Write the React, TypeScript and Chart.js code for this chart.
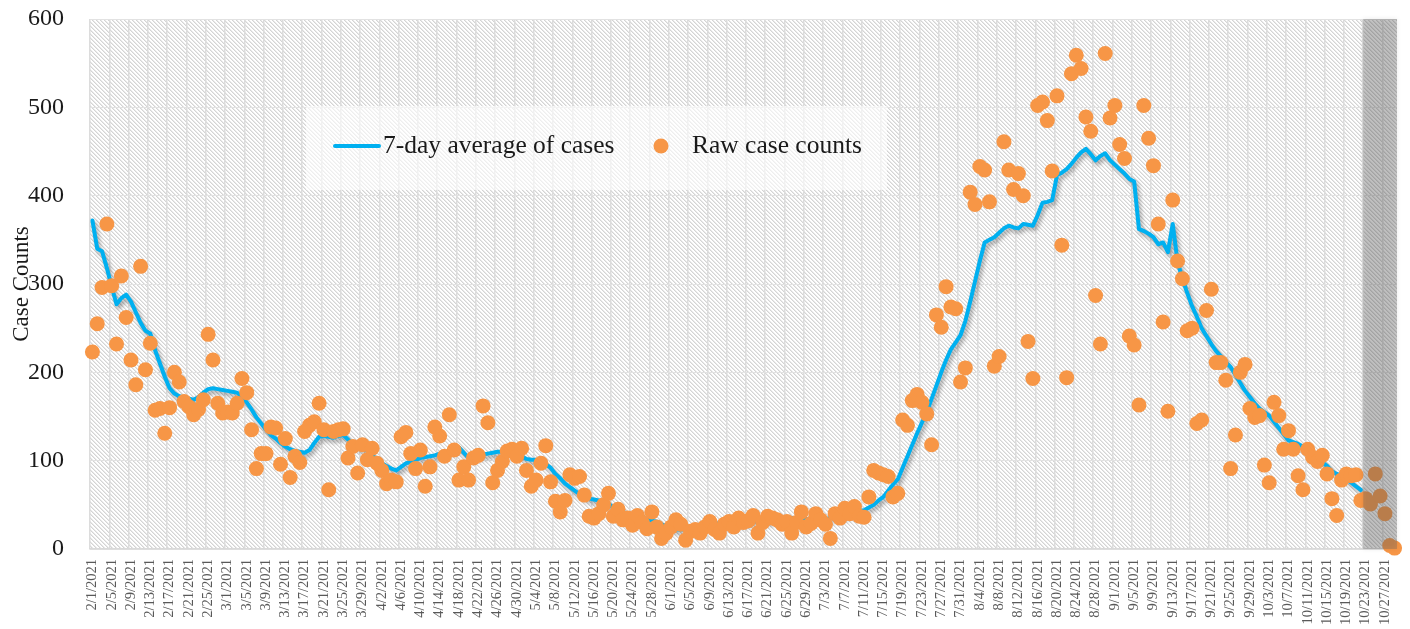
import React, { useEffect, useRef } from "react";
import { Chart, registerables } from "chart.js";

Chart.register(...registerables);

// ---- Data ----
const START_UTC = Date.UTC(2021, 1, 1); // 2/1/2021
const DAY_COUNT = 271; // 2/1/2021 .. 10/29/2021
const dateLabels: string[] = [];
for (let i = 0; i < DAY_COUNT; i++) {
  const d = new Date(START_UTC + i * 86400000);
  dateLabels.push(`${d.getUTCMonth() + 1}/${d.getUTCDate()}/${d.getUTCFullYear()}`);
}

const rawCounts: number[] = [
  223, 255, 296, 368, 298, 232, 309, 262, 214, 186,
  320, 203, 233, 157, 159, 131, 160, 200, 189, 167,
  161, 152, 158, 169, 243, 214, 165, 154, 155, 154,
  165, 193, 177, 135, 91, 108, 108, 138, 137, 96,
  125, 81, 105, 98, 133, 140, 144, 165, 135, 67,
  133, 135, 136, 103, 116, 86, 118, 101, 114, 97,
  89, 74, 78, 76, 127, 132, 108, 91, 112, 71,
  93, 138, 128, 105, 152, 112, 78, 93, 78, 103,
  106, 162, 143, 75, 89, 99, 111, 113, 105, 114,
  89, 71, 78, 97, 117, 76, 54, 42, 55, 84,
  80, 82, 61, 37, 35, 40, 50, 63, 37, 45,
  33, 35, 27, 38, 30, 23, 42, 25, 12, 18,
  25, 33, 28, 10, 20, 22, 18, 25, 31, 22,
  18, 28, 31, 25, 35, 30, 32, 38, 18, 30,
  37, 35, 33, 28, 31, 18, 30, 42, 25, 29,
  40, 33, 28, 12, 40, 35, 46, 40, 48, 37,
  36, 59, 89, 86, 84, 82, 59, 63, 146, 140,
  168, 175, 166, 153, 118, 265, 251, 297, 274, 272,
  189, 205, 404, 390, 433, 429, 393, 207, 218, 461,
  429, 407, 425, 400, 235, 193, 502, 506, 485, 428,
  513, 344, 194, 538, 559, 544, 489, 473, 287, 232,
  561, 488, 502, 458, 442, 241, 231, 163, 502, 465,
  434, 368, 257, 156, 395, 326, 306, 247, 250, 142,
  146, 270, 294, 211, 211, 191, 91, 129, 200, 209,
  159, 149, 151, 95, 75, 166, 151, 113, 134, 113,
  83, 67, 113, 104, 99, 106, 85, 57, 38, 78,
  85, 83, 84, 55, 57, 51, 85, 60, 40, 4,
  1,
];

const sevenDayAvg: (number | null)[] = [
  372, 340, 337, 318, 297, 277, 284, 288, 280, 268,
  256, 247, 244, 225, 210, 195, 182, 176, 173, 171,
  170, 169, 172, 177, 181, 182, 181, 180, 179, 178,
  177, 172, 166, 158, 149, 142, 135, 129, 125, 120,
  116, 113, 111, 110, 109, 112, 120, 127, 128, 127,
  126, 128, 129, 124, 119, 116, 113, 112, 106, 101,
  97, 94, 91, 89, 93, 97, 99, 101, 103, 104,
  105, 106, 108, 109, 111, 113, 115, 109, 103, 105,
  106, 107, 108, 109, 110, 110, 110, 109, 108, 105,
  102, 101, 101, 99, 96, 92, 85, 80, 74, 70,
  66, 62, 59, 57, 56, 55, 55, 51, 47, 44,
  42, 40, 39, 38, 37, 34, 32, 31, 28, 26,
  24, 22, 22, 22, 23, 24, 25, 27, 28, 29,
  29, 29, 29, 29, 29, 30, 30, 31, 31, 32,
  32, 32, 33, 33, 34, 35, 35, 34, 34, 33,
  33, 33, 34, 35, 36, 37, 38, 40, 41, 43,
  44, 47, 50, 55, 59, 66, 73, 79, 92, 105,
  118, 131, 143, 155, 170, 185, 200, 214, 226, 234,
  242, 258, 280, 303, 326, 347, 350, 353, 358, 363,
  366, 364, 363, 368, 367, 366, 378, 392, 393, 395,
  423, 426, 430, 436, 443, 449, 453, 447, 440, 445,
  448, 440, 435, 430, 425, 419, 416, 362, 360, 357,
  353, 345, 347, 336, 368, 325, 306, 290, 275, 263,
  250, 241, 232, 224, 218, 212, 206, 197, 188, 179,
  172, 165, 159, 155, 151, 144, 137, 130, 123, 121,
  119, 116, 112, 107, 102, 98, 94, 88, 85, 83,
  79, 75, 71, 67, null, null, null, null, null, null,
  null,
];

const SHADED_START = "10/23/2021";
const LEGEND_LINE = "7-day average of cases";
const LEGEND_DOTS = "Raw case counts";
const Y_TITLE = "Case Counts";

const SERIF = '"Liberation Serif", "Times New Roman", serif';
const BLUE = "#00B0F0";
const ORANGE = "#F79646";

function makeHatch(): CanvasPattern | string {
  const pc = document.createElement("canvas");
  pc.width = 4;
  pc.height = 4;
  const p = pc.getContext("2d");
  if (!p) return "#eeeeee";
  p.fillStyle = "#ffffff";
  p.fillRect(0, 0, 4, 4);
  for (let y = 0; y < 4; y++) {
    p.fillStyle = "#d4d4d4";
    p.fillRect(y % 4, y, 1, 1);
    p.fillStyle = "#e9e9e9";
    p.fillRect((y + 1) % 4, y, 1, 1);
  }
  const pat = p.createPattern(pc, "repeat");
  return pat || "#eeeeee";
}

export default function App() {
  const ref = useRef<HTMLCanvasElement | null>(null);

  useEffect(() => {
    document.body.style.margin = "0";
    const canvas = ref.current;
    if (!canvas) return;

    const bgPlugin = {
      id: "hatchBg",
      beforeDraw(chart: any) {
        const { ctx, chartArea: a } = chart;
        ctx.save();
        ctx.fillStyle = makeHatch();
        ctx.fillRect(a.left, a.top, a.right - a.left, a.bottom - a.top);
        ctx.restore();
      },
    };

    const shadowPlugin = {
      id: "lineShadow",
      beforeDatasetDraw(chart: any, args: any) {
        if (args.index === 1) {
          const ctx = chart.ctx;
          ctx.save();
          ctx.shadowColor = "rgba(0,0,0,0.35)";
          ctx.shadowBlur = 4;
          ctx.shadowOffsetX = 2;
          ctx.shadowOffsetY = 3;
        }
      },
      afterDatasetDraw(chart: any, args: any) {
        if (args.index === 1) chart.ctx.restore();
      },
    };

    const overlayPlugin = {
      id: "overlay",
      afterDatasetsDraw(chart: any) {
        const { ctx, chartArea: a, scales } = chart;
        const xs = scales.x;
        const idx = dateLabels.indexOf(SHADED_START);
        const x0 = (xs.getPixelForValue(idx - 1) + xs.getPixelForValue(idx)) / 2;
        ctx.save();
        ctx.shadowColor = "rgba(0,0,0,0.25)";
        ctx.shadowBlur = 5;
        ctx.fillStyle = "rgba(100,100,100,0.32)";
        ctx.fillRect(x0, a.top, a.right - x0, a.bottom - a.top);
        ctx.restore();

        // legend
        ctx.save();
        ctx.fillStyle = "rgba(255,255,255,0.6)";
        ctx.fillRect(306, 106, 581, 84);
        const cy = 146;
        ctx.strokeStyle = BLUE;
        ctx.lineWidth = 4;
        ctx.lineCap = "round";
        ctx.beginPath();
        ctx.moveTo(335, cy);
        ctx.lineTo(379, cy);
        ctx.stroke();
        ctx.font = `25.5px ${SERIF}`;
        ctx.fillStyle = "#1a1a1a";
        ctx.textBaseline = "middle";
        ctx.textAlign = "left";
        ctx.fillText(LEGEND_LINE, 383, cy);
        ctx.fillStyle = ORANGE;
        ctx.beginPath();
        ctx.arc(661, cy, 7.5, 0, Math.PI * 2);
        ctx.fill();
        ctx.fillStyle = "#1a1a1a";
        ctx.fillText(LEGEND_DOTS, 692, cy);
        ctx.restore();
      },
    };

    const chart = new Chart(canvas, {
      type: "line",
      data: {
        labels: dateLabels,
        datasets: [
          {
            label: LEGEND_DOTS,
            data: rawCounts,
            showLine: false,
            pointRadius: 7.5,
            pointHoverRadius: 7.5,
            pointBackgroundColor: ORANGE,
            pointBorderWidth: 0,
            borderColor: ORANGE,
            backgroundColor: ORANGE,
            clip: false as any,
            order: 0,
          },
          {
            label: LEGEND_LINE,
            data: sevenDayAvg,
            borderColor: BLUE,
            backgroundColor: BLUE,
            borderWidth: 4,
            pointRadius: 0,
            pointHoverRadius: 0,
            tension: 0,
            borderJoinStyle: "round",
            borderCapStyle: "round",
            spanGaps: false,
            order: 1,
          },
        ],
      },
      options: {
        animation: false,
        responsive: false,
        events: [],
        layout: { padding: { top: 19, right: 13, left: 0, bottom: 0 } },
        plugins: {
          legend: { display: false },
          tooltip: { enabled: false },
        },
        scales: {
          x: {
            type: "category",
            offset: true,
            grid: {
              offset: true,
              drawTicks: false,
              lineWidth: 1.5,
              color: (c: any) => (c.index % 4 === 0 ? "#dcdcdc" : "rgba(0,0,0,0)"),
            },
            border: { display: true, color: "#d9d9d9", width: 1.5 },
            ticks: {
              autoSkip: false,
              maxRotation: 90,
              minRotation: 90,
              padding: 10,
              color: "#595959",
              font: { family: SERIF, size: 14.5 },
              callback: (_v: any, i: number) => (i % 4 === 0 ? dateLabels[i] : ""),
            },
            afterFit: (s: any) => {
              s.height = 80;
              s.paddingLeft = 0;
              s.paddingRight = 0;
            },
          },
          y: {
            min: 0,
            max: 600,
            ticks: {
              stepSize: 100,
              padding: 26,
              color: "#1a1a1a",
              font: { family: SERIF, size: 24 },
            },
            grid: { drawTicks: false, color: "#e2e2e2", lineWidth: 1 },
            border: { display: false },
            title: {
              display: true,
              text: Y_TITLE,
              color: "#1a1a1a",
              font: { family: SERIF, size: 23 },
              padding: { top: 8, bottom: 0 },
            },
            afterFit: (s: any) => {
              s.width = 90;
              s.paddingTop = 0;
              s.paddingBottom = 0;
            },
          },
        },
      },
      plugins: [bgPlugin, shadowPlugin, overlayPlugin],
    } as any);

    return () => chart.destroy();
  }, []);

  return (
    <div style={{ position: "absolute", left: 0, top: 0, width: 1410, height: 629 }}>
      <canvas ref={ref} width={1410} height={629} style={{ display: "block" }} />
    </div>
  );
}
